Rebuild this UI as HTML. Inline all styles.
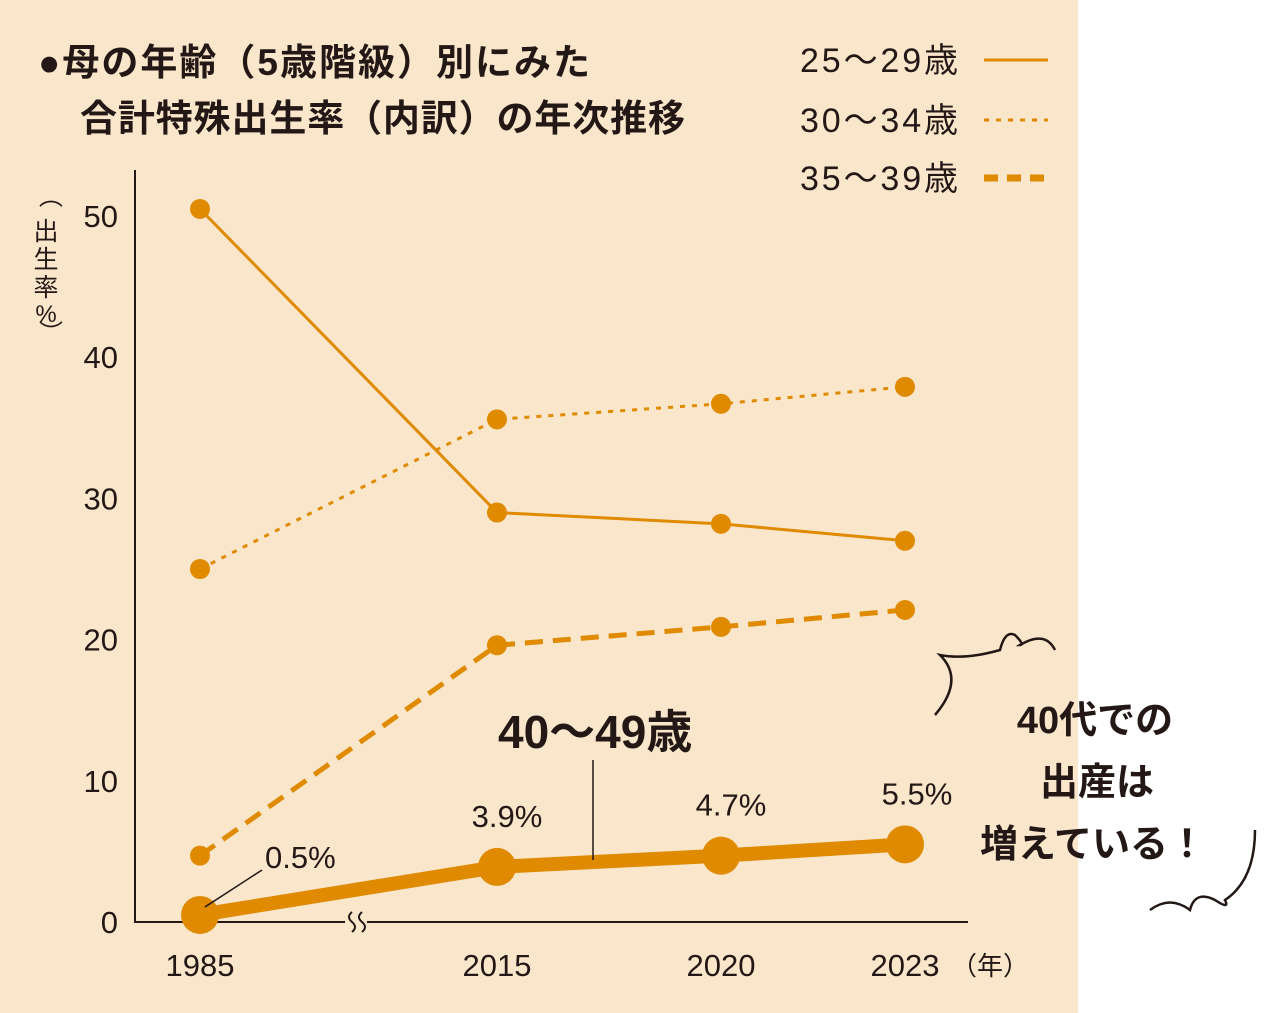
<!DOCTYPE html>
<html lang="ja"><head><meta charset="utf-8">
<style>
html,body{margin:0;padding:0;background:#fff;}
body{width:1280px;height:1013px;overflow:hidden;position:relative;font-family:"Liberation Sans","Noto Sans CJK JP",sans-serif;}
#bg{position:absolute;left:0;top:0;width:1078px;height:1013px;background:#f9e6cb;}
svg{position:absolute;left:0;top:0;}
</style></head><body>
<div id="bg"></div>
<svg id="chart" width="1280" height="1013" font-family="Liberation Sans, Noto Sans CJK JP, sans-serif"></svg>
<script>
const categories=["1985","2015","2020","2023"];
const s2529=[50.5,29.0,28.2,27.0];
const s3034=[25.0,35.6,36.7,37.9];
const s3539=[4.7,19.6,20.9,22.1];
const s4049=[0.5,3.9,4.7,5.5];
const s4049Labels=["0.5%","3.9%","4.7%","5.5%"];
const yTicks=[0,10,20,30,40,50];

const C="#e08a00",NS="http://www.w3.org/2000/svg",svg=document.getElementById('chart');
const y0=922,pxPerUnit=14.12;
function yS(v){return y0-v*pxPerUnit;}
function xS(i){const start=200,gap1=297,step=[0,0,224,184];let x=start;if(i>=1)x+=gap1;for(let k=2;k<=i;k++)x+=step[k];return x;}
function el(t,a,p){const e=document.createElementNS(NS,t);for(const k in a)e.setAttribute(k,a[k]);(p||svg).appendChild(e);return e;}
function txt(x,y,s,a,p){const e=el('text',Object.assign({x:x,y:y,fill:'#231815'},a),p);e.textContent=s;return e;}

const ax=el('line',{x1:135,y1:170,x2:135,y2:923,stroke:'#231815','stroke-width':2});

const xa=el('line',{x1:134,y1:922,x2:968,y2:922,stroke:'#231815','stroke-width':2});

el('rect',{x:345,y:914,width:22,height:16,fill:'#f9e6cb'});
const br=el('path',{d:'M352 912 q-6 5 0 10 q6 5 0 10 M362 912 q-6 5 0 10 q6 5 0 10',stroke:'#231815','stroke-width':2,fill:'none'});


yTicks.forEach(v=>{const t=txt(118,yS(v)+11,String(v),{'font-size':31,'text-anchor':'end'});
});
categories.forEach((c,i)=>{const t=txt(xS(i),976,c,{'font-size':31,'text-anchor':'middle'});
});
const yu=txt(990,975,'（年）',{'font-size':26,'text-anchor':'middle'});


const yt=el('g',{});
txt(0,0,'（',{'font-size':24,'text-anchor':'middle',transform:'translate(42,196) rotate(90)'},yt);
txt(46,240,'出',{'font-size':25,'text-anchor':'middle'},yt);
txt(46,268,'生',{'font-size':25,'text-anchor':'middle'},yt);
txt(46,296,'率',{'font-size':25,'text-anchor':'middle'},yt);
txt(46,322,'%',{'font-size':24,'text-anchor':'middle'},yt);
txt(0,0,'）',{'font-size':24,'text-anchor':'middle',transform:'translate(42,332) rotate(90)'},yt);

function series(data,name,w,dash,r){
  const pts=data.map((v,i)=>xS(i)+','+yS(v)).join(' ');
  const g=el('g',{});
  const a={points:pts,fill:'none',stroke:C,'stroke-width':w};if(dash)a['stroke-dasharray']=dash;
  el('polyline',a,g);
  data.forEach((v,i)=>{const c=el('circle',{cx:xS(i),cy:yS(v),r:r,fill:C},g);
  });
}
series(s2529,'series-25-29',3,null,10);
series(s3034,'series-30-34',3,'5 7',10);
series(s3539,'series-35-39',5,'18 10',10);
series(s4049,'series-40-49',14,null,19);
s4049.forEach((v,i)=>{if(i===0)return;const t=txt(xS(i)+(i===3?12:10),yS(v)-40,s4049Labels[i],{'font-size':31,'text-anchor':'middle'});
});
el('line',{x1:xS(0)+5,y1:yS(s4049[0])-8,x2:262,y2:870,stroke:'#231815','stroke-width':1.5});
const l0=txt(265,868,s4049Labels[0],{'font-size':31});
el('line',{x1:593,y1:760,x2:593,y2:860,stroke:'#231815','stroke-width':1.5});
const sl=txt(498,748,'40〜49歳',{'font-size':46,'font-weight':'bold'});


const t1=txt(38,75,'●母の年齢（5歳階級）別にみた',{'font-size':37,'font-weight':'bold',textLength:552});

const t2=txt(80,131,'合計特殊出生率（内訳）の年次推移',{'font-size':37,'font-weight':'bold',textLength:605});


[['25〜29歳',null,3,72],['30〜34歳','5 7',3,132],['35〜39歳','14 9',7,190]].forEach(l=>{
  const g=el('g',{});
  txt(800,l[3],l[0],{'font-size':34,textLength:158},g);
  const a={x1:984,y1:l[3]-12,x2:1048,y2:l[3]-12,stroke:C,'stroke-width':l[2]};if(l[1])a['stroke-dasharray']=l[1];
  el('line',a,g);
});

const an=el('g',{});
txt(1095,733,'40代での',{'font-size':38,'font-weight':'bold','text-anchor':'middle'},an);
txt(1097,795,'出産は',{'font-size':38,'font-weight':'bold','text-anchor':'middle'},an);
txt(1093,857,'増えている！',{'font-size':38,'font-weight':'bold','text-anchor':'middle'},an);
el('path',{d:'M935 715 q30 -35 5 -60 q25 5 60 -5 q5 -20 15 -15 q10 10 5 10 q25 -15 35 5',stroke:'#231815','stroke-width':2.5,fill:'none'},an);
el('path',{d:'M1150 910 q20 -15 40 0 q5 -20 25 -10 q15 10 10 0 q30 -20 30 -70',stroke:'#231815','stroke-width':2.5,fill:'none'},an);
</script>
</body></html>
